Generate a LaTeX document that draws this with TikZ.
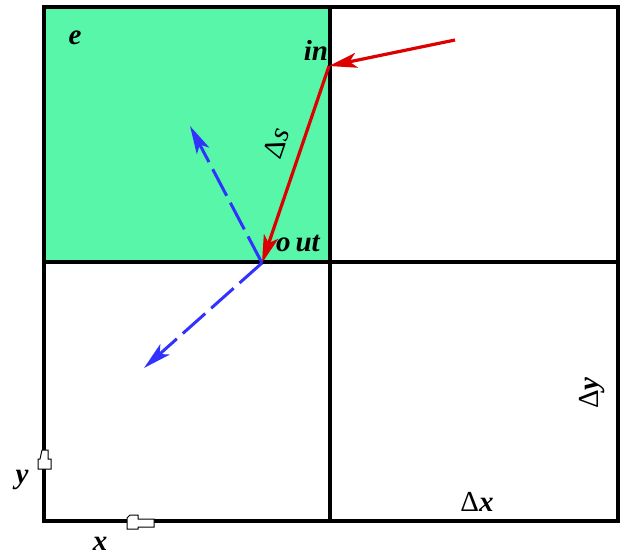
\documentclass[tikz,border=0pt]{standalone}
\usepackage{fontspec}
\setmainfont{Liberation Serif}
\usetikzlibrary{arrows.meta}
\definecolor{cellgreen}{RGB}{88,246,168}
\definecolor{arrred}{RGB}{220,0,0}
\definecolor{arrblue}{RGB}{50,50,255}
\tikzset{
  gridline/.style={line width=4.8pt,black},
  redarrow/.style={arrred,line width=3.2pt,-{Stealth[length=28pt,width=15pt,inset=7pt]}},
  bluearrow/.style={arrblue,line width=3pt,dash pattern=on 30pt off 8pt,-{Stealth[length=28pt,width=14pt,inset=7pt]}},
  lbl/.style={font=\fontsize{29}{30}\selectfont\bfseries\itshape,inner sep=0pt},
  dlbl/.style={font=\fontsize{29}{30}\selectfont,inner sep=0pt},
  marker/.style={draw=black,fill=white,line width=1pt}
}
\begin{document}
\begin{tikzpicture}[x=1pt,y=-1pt]
\useasboundingbox (0,0) rectangle (621,549);
\fill[white] (0,0) rectangle (621,549);
\fill[cellgreen] (44,7) rectangle (330,262);
\draw[gridline] (44,7) rectangle (618,521);
\draw[gridline] (330,7) -- (330,521);
\draw[gridline] (44,262) -- (618,262);
\coordinate (src) at (455,40);
\coordinate (in) at (329,66);
\coordinate (out) at (262,263);
\coordinate (up) at (190,126);
\coordinate (down) at (144,368);
\draw[redarrow] (src) -- (in);
\draw[redarrow] (in) -- (out);
\draw[bluearrow] (out) -- (up);
\draw[bluearrow] (out) -- (down);
\node[lbl] (le) at (75,38) {e};
\node[lbl] (lin) at (316,50) {in};
\node[lbl] (lout) at (298,244) {o\,ut};
\node[dlbl,rotate=71] (lds) at (276,143) {Δ\textit{s}};
\node[dlbl,rotate=90] (ldy) at (592,393) {Δ\textbf{\textit{y}}};
\node[dlbl] (ldx) at (477,502) {Δ\textbf{\textit{x}}};
\node[lbl] (ly) at (22,480) {y};
\node[lbl] (lx) at (100,544) {x};
\draw[marker] (42,450) -- (48,450) -- (48,459) -- (51,459) -- (51,469) -- (38,469) -- (38,459) -- (40,459) -- cycle;
\draw[marker] (130,515) -- (138,515) -- (138,519) -- (154,519) -- (154,527) -- (138,527) -- (138,529) -- (127,529) -- (127,518) -- cycle;
\end{tikzpicture}
\end{document}
